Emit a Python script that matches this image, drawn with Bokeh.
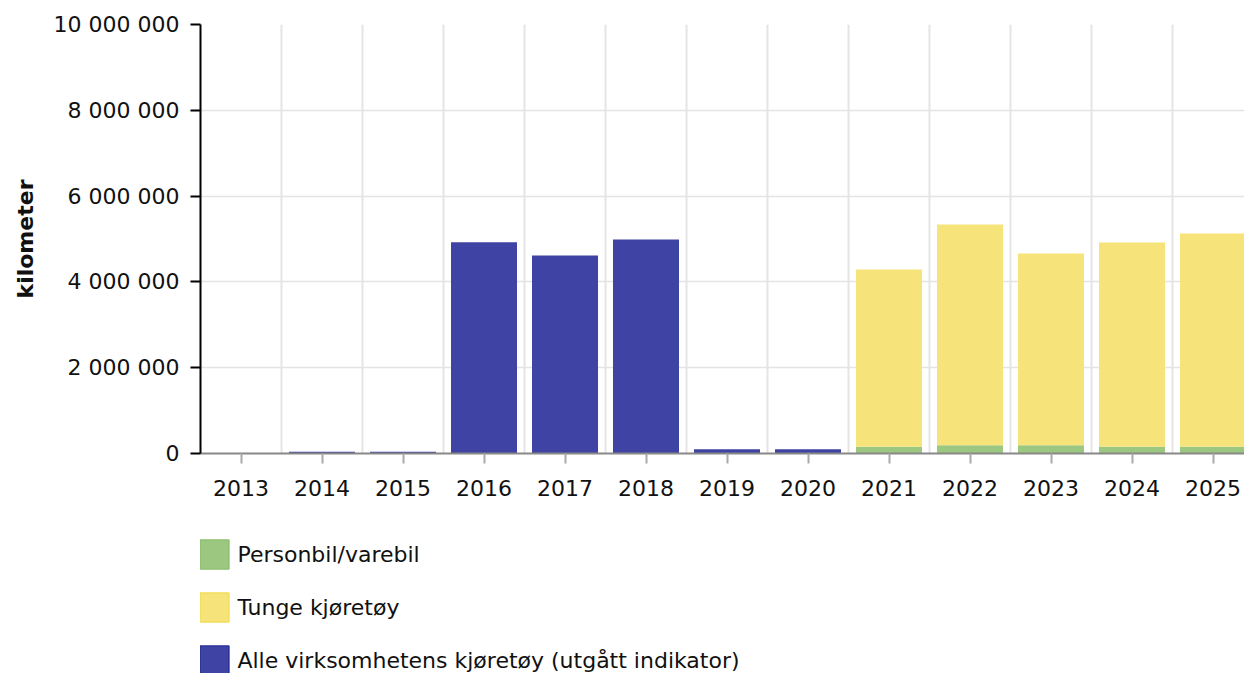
from bokeh.plotting import figure
from bokeh.layouts import column
from bokeh.models import FixedTicker, Legend, LegendItem, ColumnDataSource, Range1d
from bokeh.embed import file_html
from bokeh.resources import INLINE

years = ["2013", "2014", "2015", "2016", "2017", "2018", "2019", "2020",
         "2021", "2022", "2023", "2024", "2025"]
alle = [0, 40000, 40000, 4925000, 4615000, 4990000, 100000, 100000, 0, 0, 0, 0, 0]
person = [0, 0, 0, 0, 0, 0, 0, 0, 155000, 195000, 195000, 155000, 155000]
tunge = [0, 0, 0, 0, 0, 0, 0, 0, 4135000, 5145000, 4465000, 4765000, 4975000]
y_ticks = [0, 2000000, 4000000, 6000000, 8000000, 10000000]
y_labels = ["0", "2 000 000", "4 000 000", "6 000 000", "8 000 000", "10 000 000"]
series_names = ["Personbil/varebil", "Tunge kjøretøy", "Alle virksomhetens kjøretøy (utgått indikator)"]

GREEN, GREEN_L = "#9cc781", "#8dbf6e"
YELLOW, YELLOW_L = "#f6e47a", "#f3dc5a"
BLUE, BLUE_L = "#3f43a3", "#2a2e98"
FONT = "DejaVu Sans"
FS = "22px"

xs = list(range(len(years)))
zeros = [0] * len(years)
src = ColumnDataSource(dict(x=xs, alle=alle, person=person, tunge=tunge, zero=zeros))

FW = 1044
LEFT = 200
p = figure(frame_width=FW, frame_height=429, output_backend="svg", toolbar_location=None,
           x_range=Range1d(-0.5, -0.5 + FW / 81), y_range=Range1d(0, 10000000),
           min_border_left=LEFT, min_border_right=0, min_border_top=24, min_border_bottom=60)
p.outline_line_color = None

bw = 0.815
p.vbar(x="x", top="alle", width=bw, source=src, fill_color=BLUE, line_color=None)
p.vbar_stack(["person", "tunge"], x="x", width=bw, source=src,
             fill_color=[GREEN, YELLOW], line_color=None)

# x axis
xa = p.xaxis[0]
xa.ticker = FixedTicker(ticks=xs)
xa.major_label_overrides = {i: y for i, y in enumerate(years)}
xa.axis_line_color = "#888888"
xa.axis_line_width = 2
xa.major_tick_line_color = "#aaaaaa"
xa.major_tick_line_width = 2
xa.major_tick_out = 10
xa.major_tick_in = 0
xa.minor_tick_line_color = None
xa.major_label_standoff = 16
xa.major_label_text_font = FONT
xa.major_label_text_font_size = FS
xa.major_label_text_color = "#111111"

# y axis
ya = p.yaxis[0]
ya.ticker = FixedTicker(ticks=y_ticks)
ya.major_label_overrides = {t: l for t, l in zip(y_ticks, y_labels)}
ya.axis_line_color = "black"
ya.axis_line_width = 2
ya.major_tick_line_color = "black"
ya.major_tick_line_width = 2
ya.major_tick_out = 10
ya.major_tick_in = 0
ya.minor_tick_line_color = None
ya.major_label_standoff = 11
ya.major_label_text_font = FONT
ya.major_label_text_font_size = FS
ya.major_label_text_color = "#111111"
ya.axis_label = "kilometer"
ya.axis_label_text_font = FONT
ya.axis_label_text_font_style = "bold"
ya.axis_label_text_font_size = FS
ya.axis_label_text_color = "#111111"
ya.axis_label_standoff = 13

p.xgrid.ticker = FixedTicker(ticks=[i + 0.5 for i in range(len(years))])
p.xgrid.grid_line_color = "#e4e4e4"
p.xgrid.grid_line_width = 2
p.ygrid.grid_line_color = "#e4e4e4"
p.ygrid.grid_line_width = 1.5

# legend-only figure below; proxy bars lie far outside its view ranges
p2 = figure(frame_width=FW, frame_height=160, output_backend="svg", toolbar_location=None,
            x_axis_type=None, y_axis_type=None, x_range=Range1d(1000, 1001),
            y_range=Range1d(1000, 1001), min_border_left=LEFT, min_border_right=0,
            min_border_top=0, min_border_bottom=0)
p2.outline_line_color = None
p2.xgrid.visible = False
p2.ygrid.visible = False
r1 = p2.vbar(x="x", top="zero", width=bw, source=src, fill_color=GREEN, line_color=GREEN_L, line_width=1.5)
r2 = p2.vbar(x="x", top="zero", width=bw, source=src, fill_color=YELLOW, line_color=YELLOW_L, line_width=1.5)
r3 = p2.vbar(x="x", top="zero", width=bw, source=src, fill_color=BLUE, line_color=BLUE_L, line_width=1.5)
legend = Legend(items=[LegendItem(label=series_names[0], renderers=[r1], index=0),
                       LegendItem(label=series_names[1], renderers=[r2], index=0),
                       LegendItem(label=series_names[2], renderers=[r3], index=0)],
                orientation="vertical", location=(-3.6, -5.4),
                glyph_width=36, glyph_height=36, spacing=17, padding=0, margin=0,
                label_standoff=5, label_text_font=FONT, label_text_font_size=FS,
                label_height=36, label_text_baseline="middle",
                label_text_color="#111111", border_line_color=None, background_fill_alpha=0)
p2.add_layout(legend, "center")

layout = column(p, p2, spacing=0)
open("out.html", "w").write(file_html(layout, INLINE))
